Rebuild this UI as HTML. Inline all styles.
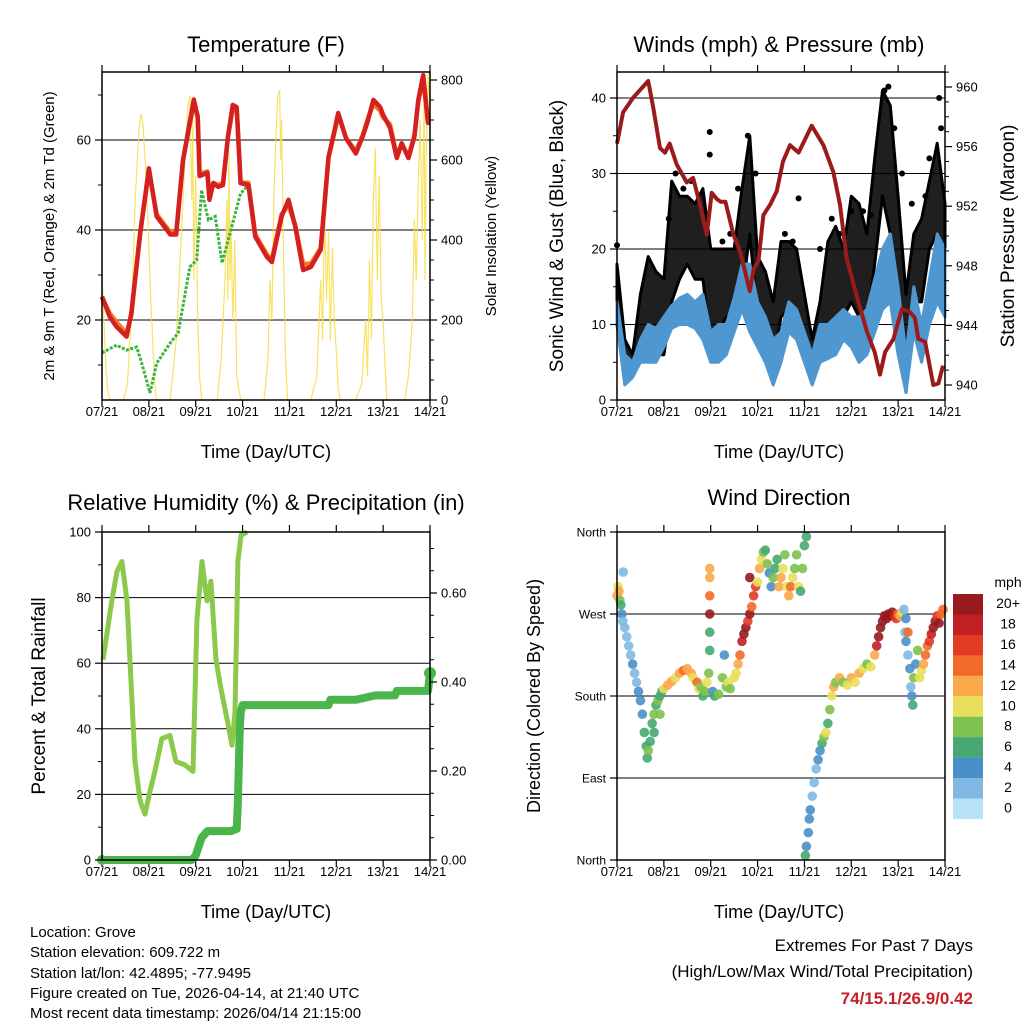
<!DOCTYPE html>
<html><head><meta charset="utf-8"><style>
html,body{margin:0;padding:0;background:#fff}
svg{display:block;font-family:"Liberation Sans",sans-serif}
</style></head><body>
<svg id="c" width="1024" height="1024" viewBox="0 0 1024 1024" xmlns="http://www.w3.org/2000/svg">
<rect x="0" y="0" width="1024" height="1024" fill="#fff"/>
<g font-size="22" text-anchor="middle" fill="#000">
<text x="266" y="52">Temperature (F)</text>
<text x="779" y="52">Winds (mph) &amp; Pressure (mb)</text>
<text x="266" y="510">Relative Humidity (%) &amp; Precipitation (in)</text>
<text x="779" y="505">Wind Direction</text>
</g>
<g font-size="18" text-anchor="middle">
<text x="266" y="458">Time (Day/UTC)</text>
<text x="779" y="458">Time (Day/UTC)</text>
<text x="266" y="918">Time (Day/UTC)</text>
<text x="779" y="918">Time (Day/UTC)</text>
<text transform="translate(54,236) rotate(-90)" font-size="15">2m &amp; 9m T (Red, Orange) &amp; 2m Td (Green)</text>
<text transform="translate(496,236) rotate(-90)" font-size="15">Solar Insolation (Yellow)</text>
<text transform="translate(563,236) rotate(-90)" font-size="19">Sonic Wind &amp; Gust (Blue, Black)</text>
<text transform="translate(1014,236) rotate(-90)" font-size="19">Station Pressure (Maroon)</text>
<text transform="translate(45,696) rotate(-90)" font-size="19">Percent &amp; Total Rainfall</text>
<text transform="translate(540,696) rotate(-90)" font-size="18">Direction (Colored By Speed)</text>
</g>
<g font-size="15">
<text x="30" y="937">Location: Grove</text>
<text x="30" y="957">Station elevation: 609.722 m</text>
<text x="30" y="978">Station lat/lon: 42.4895; -77.9495</text>
<text x="30" y="998">Figure created on Tue, 2026-04-14, at 21:40 UTC</text>
<text x="30" y="1018">Most recent data timestamp: 2026/04/14 21:15:00</text>
</g>
<g font-size="17" text-anchor="end">
<text x="973" y="951">Extremes For Past 7 Days</text>
<text x="973" y="977">(High/Low/Max Wind/Total Precipitation)</text>
<text x="973" y="1004" fill="#c8202a" font-weight="bold">74/15.1/26.9/0.42</text>
</g>
</svg>
<script>
// ---------- DATA ----------
const xTickLabels=["07/21","08/21","09/21","10/21","11/21","12/21","13/21","14/21"];
const tempT=[0,4,7.5,12.6,15,19.5,24,28,35,38,41.5,47,49,50,54,55,57,59.5,62,64.5,67,69,71,75,78.5,84.5,87,92,95.5,99,103,107,112,116,119.5,121,125,130,133.5,136,139,142.5,144,147.5,151,153.5,157,160,162,164.5,167,168];
const temp2m=[25.2,20.7,18.5,16.3,21.5,39,53.7,43,39,39,55.5,69,65,52,52.7,46.7,50.4,49.6,50,60.7,67.8,67.3,50.4,50,38.5,34,32.9,43,46.7,40.7,31.1,31.8,35.6,56.2,62.9,66,60.4,57,60.7,64,68.9,67.3,65.6,62.7,56,59.3,56,60.7,68.9,74.4,63.8,64];
const temp9m=[25,21.5,19.5,17,21,39.5,53,43.5,39.5,39.5,55.5,68,65.5,52.5,53,47,50.5,50,50.5,60.5,67,67,50.5,50.5,39,34.5,33.5,43.5,45.5,41,32.5,32.5,36,56,62.5,65.5,60.5,57.5,61,64.5,68,66.5,65,63.5,56.5,59,56.5,61,68.5,73.5,64,64];
const dewT=[0,7.5,12.6,17.7,20,24.6,28,35,39,45,48.5,51,54.5,58,61.5,66,71,75];
const dewV=[12.7,14.4,13.3,14,11,3.8,10.4,14.9,17.1,31.8,33.3,48.9,42.2,43,32.7,40,48.1,50];
const solarT=[0,1,2,3,4,11,13,15,17,19,20,21,23,25,27,28,35,38,41,43,44,45,46,46.5,47,48,49,50,51,59,61,63,64,64.5,65,65.5,66,67,68,69,70,71,83,85,86,87,88,89,90,91,91.5,92,93,94,95,107,110,112,113,114,115,116,117,118,119,120,121,122,130,133,135,136,137,138,139,140,141,142,143,144,145,146,155,157,159,160,161,162,163,164,165,165.5,166,167,168];
const solarV=[320,200,80,20,0,0,40,200,500,680,715,690,520,250,40,0,0,150,450,650,740,760,500,700,300,560,200,60,0,0,100,300,500,250,620,300,450,200,400,60,30,0,0,100,300,200,500,650,760,775,600,700,350,100,0,0,60,300,150,470,250,420,150,380,200,120,30,0,0,40,200,60,350,150,500,630,300,560,250,200,80,0,0,60,200,450,300,550,700,400,760,300,600,820,700];
const windT=[0,4,8,12,16,20,24,28,32,36,40,44,48,52,56,60,64,68,72,76,80,84,88,92,96,100,104,108,112,116,120,124,128,132,136,140,144,148,152,156,160,164,168];
const windLo=[10,2,3,5,5,5,7,9.5,10,10,9.5,8,5,5,6,9,12,9,7,5,2,5,9,8,5,2,5,5.5,6,8,7,5,6,9,12,13,6,1,9,5,10,13,11];
const windHi=[13,6,5,8,10,9.5,11,12.5,13.5,14,13,14,9,10,10,13.5,18,18,13,11,8,9,13,12,9,6,10,10,11,12,11,11,12,16,20,22,15,6,15,10,16,22,20];
const gustLo=[10,3,4,6,9,6,6,13,16,18,16,16,7,9,11,11,14,22,11,8,5,11,12,10,6,4.5,5,8,10,11,13,11,10,18,27,22,9,1,13,13,20,22,18];
const gustHi=[18,8,6,14,19,17,16,29,27,27,26,28,20,20,20,20,28,35,19,17,13,21,21,20,14,8,13,21,23,20,27,26,22,32,41,39,27,14,22,24,29,34,26];
const gustDotT=[0,47.5,47.5,67,93,26.5,151,165,166,160,139,137,120,104,34,130,71,62,30,38,54,58,86,90,110,114,126,142,146,158];
const gustDotV=[20.5,32.5,35.5,35,26.7,24,26,40,36,32,41.5,41,25,20,28,24.5,30,28,30,29,21,22,22,21,24,22,25,36,30,27];
const presT=[0,3.1,8.4,16,18.6,22,24.6,27,30.6,35.7,39,42.5,46,48.5,51,53,55.5,59.6,63,68,70,72.4,75,78.4,81.8,85,88.6,93,99.7,105.7,110.8,114.2,117.6,122.7,128,132,134.7,137.3,141.6,145.9,150,152.6,154.3,157.8,162,164.6,167];
const presV=[956.2,958.3,959.3,960.4,958.6,955.9,955.6,956.2,954.8,953.6,953.9,952.1,950.1,952.9,952.5,952.3,952.3,950.1,949,946.3,947.8,948.3,951.4,952.1,953,955,956.1,955.6,957.4,956.1,954.3,952.1,948.5,946,943.6,942.2,940.7,942.2,943.1,945.1,944.9,944.5,943.1,942.9,940,940.1,941.3];
const rhT=[0.5,5,7.7,10.2,12.8,14.8,16.9,19.5,22,24.6,27.1,30.7,34.8,37.9,42.5,46.6,48.6,51.2,53.8,55.8,58.4,61,64,66.6,68.1,69.6,71.2,74.3];
const rhV=[61,79,88,91,79,55,30,18,14,21,27,37,38,30,29,27,73,91,79,85,61,52,43,35,45,91,99,100];
const prT=[0,10,20,30,40,46,48,49.5,51,53,54,60,66,69,69.5,70,70.5,71,72,80,90,100,110,116,117,130,140,150,151,160,167,168];
const prV=[0,0,0,0,0,0,0.01,0.03,0.05,0.06,0.065,0.065,0.065,0.07,0.12,0.2,0.28,0.33,0.348,0.348,0.348,0.348,0.348,0.348,0.36,0.36,0.37,0.37,0.38,0.38,0.38,0.42];
const dirT=[0,0.5,1,1.5,2,2.5,3,3.2,4,5,6,7,8,9,10,11,12,13,14,15,15.5,16,17,18,19,20,21,22,23,24,22,19,26,28,30,32,34,36,38,39,41,42,43,44,45,46,47,47.5,47.5,47.5,47.5,47.5,47.5,49,50,52,54,55,56,57,58,60,61,62,63,64,65,66,67,68,69,70,71,68,72,73,74,75,76,77,78,79,80,81,82,83,84,85,86,87,88,89,90,91,92,93,94,95,96,97,96.5,97,98,98.5,99,100,101,102,103,104,105,106,107,108,109,110,111,112,114,116,118,120,122,124,126,128,130,132,133,134,135,136,137,138,139,140,141,142,143,144,145,146,147,147.5,148,149,150,150.5,151,151.5,152,153,154,148,149,155,156,157,158,159,160,161,162,163,164,165,166,167];
const dirDeg=[290,300,295,285,280,270,262,316,255,245,235,225,215,205,195,185,175,160,140,125,112,120,130,150,160,170,175,180,185,188,160,140,192,196,200,205,208,210,205,200,195,188,190,180,185,195,205,230,250,270,290,310,320,185,180,182,200,225,190,195,188,200,205,215,225,240,248,255,262,270,278,290,300,310,305,320,330,338,340,325,315,300,310,320,330,300,310,320,335,300,290,300,310,320,335,300,295,320,345,355,5,15,30,45,55,70,85,100,110,120,128,135,140,150,165,180,190,195,200,195,192,200,195,205,210,215,212,225,235,245,255,262,268,265,270,268,272,268,265,270,268,272,275,250,240,225,210,190,180,170,200,215,230,265,250,200,208,215,225,235,240,248,255,262,268,260,270,275];
const dirSpd=[12,10,12,8,6,4,2,2,2,2,2,2,4,2,2,4,4,4,6,6,6,8,6,6,8,6,8,6,6,10,8,6,12,12,10,12,14,12,12,10,14,10,8,6,8,10,8,6,6,20,14,12,12,4,6,8,8,4,8,10,8,10,10,12,14,18,20,20,16,20,14,16,16,20,10,12,10,8,6,8,4,4,8,6,6,12,12,10,8,10,12,14,10,8,8,10,6,8,6,6,6,4,4,4,4,2,2,2,4,4,6,8,10,6,8,10,12,8,12,8,10,12,10,12,10,8,10,12,18,20,20,20,20,20,20,20,20,18,16,14,12,10,2,2,4,2,4,2,4,6,8,4,8,4,14,10,10,12,14,14,16,18,20,20,16,20,14,14];
const cbLabels=["20+","18","16","14","12","10","8","6","4","2","0"];
const cbColors=["#961a1e","#c11f25","#e13b26","#f26a2a","#f9a94a","#e8df5a","#7dc24e","#47a872","#4a90c8","#7fb9e4","#b8e2f7"];
const tempTicks=[20,40,60];
const solarTicks=[0,200,400,600,800];
const windTicks=[0,10,20,30,40];
const presTicks=[940,944,948,952,956,960];
const rhTicks=[0,20,40,60,80,100];
const prTicks=[0,0.2,0.4,0.6];
const dirTicks=[0,90,180,270,360];
const dirTickLabels=["North","East","South","West","North"];

// ---------- SCALES ----------
const NS="http://www.w3.org/2000/svg";
const svg=document.getElementById('c');
const L=102,R=430,L2=617,R2=945;
const xA=t=>L+t/168*(R-L);
const xB=t=>L2+t/168*(R2-L2);
const yTemp=v=>410-v*4.5;
const ySol=v=>400-v*0.4;
const yWind=v=>400-v*7.55;
const yPres=p=>385-(p-940)*14.9;
const yRH=v=>860-v*3.28;
const yPr=v=>860-v*445;
const yDir=d=>860-d*328/360;
function mk(tag,attrs,parent){const e=document.createElementNS(NS,tag);for(const k in attrs)e.setAttribute(k,attrs[k]);(parent||svg).appendChild(e);return e;}
function pathFrom(ts,vs,xf,yf){return ts.map((t,i)=>(i?'L':'M')+xf(t).toFixed(1)+','+yf(vs[i]).toFixed(1)).join('');}
function bandFrom(ts,lo,hi,xf,yf){let d=ts.map((t,i)=>(i?'L':'M')+xf(t).toFixed(1)+','+yf(hi[i]).toFixed(1)).join('');for(let i=ts.length-1;i>=0;i--)d+='L'+xf(ts[i]).toFixed(1)+','+yf(lo[i]).toFixed(1);return d+'Z';}

function frame(x0,x1,y0,y1,name){
  const g=mk('g',{});
  
  
  for(let i=0;i<=7;i++){
    const x=x0+i*(x1-x0)/7;
    mk('line',{x1:x,x2:x,y1:y1,y2:y1+7,stroke:'#000','stroke-width':1.2},g);
    mk('line',{x1:x,x2:x,y1:y0,y2:y0-7,stroke:'#000','stroke-width':1.2},g);
    const tx=mk('text',{x:x,y:y1+16,'font-size':13,'text-anchor':'middle'},g);
    tx.textContent=xTickLabels[i];
    
    
  }
  return g;
}
function gridY(vals,yf,x0,x1,g){vals.forEach(v=>mk('line',{x1:x0,x2:x1,y1:yf(v),y2:yf(v),stroke:'#000','stroke-width':1},g));}
function ticksY(vals,yf,x,side,labels,g,fs){vals.forEach((v,i)=>{const y=yf(v);mk('line',{x1:x,x2:x+side*7,y1:y,y2:y,stroke:'#000','stroke-width':1.2},g);const t=mk('text',{x:x+side*11,y:y+4.5,'font-size':fs||13,'text-anchor':side<0?'end':'start'},g);t.textContent=labels[i];});}
function minorY(vals,yf,x,side,g){vals.forEach(v=>{const y=yf(v);mk('line',{x1:x,x2:x+side*4,y1:y,y2:y,stroke:'#000','stroke-width':1},g);});}
function box(x0,x1,y0,y1,g){mk('rect',{x:x0,y:y0,width:x1-x0,height:y1-y0,fill:'none',stroke:'#000','stroke-width':1.5},g);}

// ---------- PANEL 1: TEMPERATURE ----------
(function(){
  const g=frame(L,R,72,400,'temperature');
  gridY(tempTicks,yTemp,L,R,g);
  const sol=mk('path',{d:pathFrom(solarT,solarV,xA,ySol),fill:'none',stroke:'#f7dd4a','stroke-width':1.2,'stroke-opacity':0.85});
  
  
  const dew=mk('path',{d:pathFrom(dewT,dewV,xA,yTemp),fill:'none',stroke:'#3cb43c','stroke-width':3,'stroke-dasharray':'3,1.5'});
  
  
  const t9=mk('path',{d:pathFrom(tempT,temp9m,xA,yTemp),fill:'none',stroke:'#f47a20','stroke-width':4.5,'stroke-linejoin':'round'});
  
  
  const t2=mk('path',{d:pathFrom(tempT,temp2m,xA,yTemp),fill:'none',stroke:'#d42020','stroke-width':4.5,'stroke-linejoin':'round'});
  
  
  const g2=mk('g',{});
  box(L,R,72,400,g2);
  ticksY(tempTicks,yTemp,L,-1,tempTicks.map(String),g2);
  minorY([10,30,50,70],yTemp,L,-1,g2);
  ticksY(solarTicks,ySol,R,1,solarTicks.map(String),g2);
  minorY([50,100,150,250,300,350,450,500,550,650,700,750],ySol,R,1,g2);
})();

// ---------- PANEL 2: WINDS ----------
(function(){
  const g=frame(L2,R2,72,400,'winds');
  gridY([10,20,30,40],yWind,L2,R2,g);
  const gb=mk('path',{d:bandFrom(windT,gustLo,gustHi,xB,yWind),fill:'#000','fill-opacity':0.88,'stroke':'#000','stroke-width':3,'stroke-linejoin':'round'});
  
  
  gustDotT.forEach((t,i)=>{const c=mk('circle',{cx:xB(t),cy:yWind(gustDotV[i]),r:3,fill:'#000'});
    
    });
  const wb=mk('path',{d:bandFrom(windT,windLo,windHi,xB,yWind),fill:'#4f97d1',stroke:'#4f97d1','stroke-width':3,'stroke-linejoin':'round'});
  
  
  const pr=mk('path',{d:pathFrom(presT,presV,xB,yPres),fill:'none',stroke:'#9b1b1b','stroke-width':4,'stroke-linejoin':'round'});
  
  
  const g2=mk('g',{});
  box(L2,R2,72,400,g2);
  ticksY(windTicks,yWind,L2,-1,windTicks.map(String),g2);
  minorY([5,15,25,35],yWind,L2,-1,g2);
  ticksY(presTicks,yPres,R2,1,presTicks.map(String),g2);
  minorY([941,942,943,945,946,947,949,950,951,953,954,955,957,958,959,961],yPres,R2,1,g2);
})();

// ---------- PANEL 3: RH & PRECIP ----------
(function(){
  const g=frame(L,R,532,860,'humidity');
  gridY([20,40,60,80],yRH,L,R,g);
  const rh=mk('path',{d:pathFrom(rhT,rhV,xA,yRH),fill:'none',stroke:'#8cc84b','stroke-width':5,'stroke-linejoin':'round'});
  
  
  const p=mk('path',{d:pathFrom(prT,prV,xA,yPr),fill:'none',stroke:'#4ab54a','stroke-width':8,'stroke-linejoin':'round'});
  
  
  const pe=mk('circle',{cx:xA(prT[prT.length-1]),cy:yPr(prV[prV.length-1]),r:6,fill:'#4ab54a'});
  
  
  const ps=mk('circle',{cx:xA(0),cy:yPr(0),r:5,fill:'#4ab54a'});
  
  
  const g2=mk('g',{});
  box(L,R,532,860,g2);
  ticksY(rhTicks,yRH,L,-1,rhTicks.map(String),g2);
  minorY([10,30,50,70,90],yRH,L,-1,g2);
  ticksY(prTicks,yPr,R,1,prTicks.map(v=>v.toFixed(2)),g2);
  minorY([0.05,0.1,0.15,0.25,0.3,0.35,0.45,0.5,0.55,0.65,0.7],yPr,R,1,g2);
})();

// ---------- PANEL 4: WIND DIRECTION ----------
(function(){
  const g=frame(L2,R2,532,860,'wind-direction');
  gridY([90,180,270],yDir,L2,R2,g);
  dirT.forEach((t,i)=>{
    const s=dirSpd[i];const idx=Math.max(0,Math.min(10,10-Math.floor(s/2)));
    const c=mk('circle',{cx:xB(t),cy:yDir(dirDeg[i]),r:4.8,fill:cbColors[idx],'fill-opacity':0.9});
    
    
  });
  const g2=mk('g',{});
  box(L2,R2,532,860,g2);
  ticksY(dirTicks,yDir,L2,-1,dirTickLabels,g2,12);
  const cb=mk('g',{});
  
  
  const u=mk('text',{x:1008,y:587,'font-size':14,'text-anchor':'middle'},cb);u.textContent='mph';
  cbColors.forEach((col,i)=>{
    const y=594+i*20.45;
    const r=mk('rect',{x:953,y:y,width:30,height:20.6,fill:col},cb);
    
    
    const t=mk('text',{x:1008,y:y+14,'font-size':14,'text-anchor':'middle'},cb);t.textContent=cbLabels[i];
    
    
  });
})();
</script>
</body></html>
